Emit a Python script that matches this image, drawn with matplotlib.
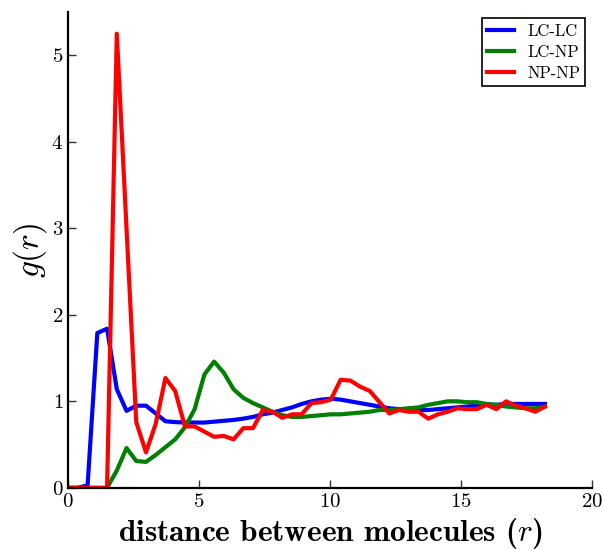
import os
import numpy as np
import matplotlib
matplotlib.use("Agg")
import matplotlib.pyplot as plt
from matplotlib.font_manager import FontProperties

# radial distance bins
r = np.linspace(0.0, 18.2, 50)

lc_lc = [0.00, 0.00, 0.03, 1.79, 1.84, 1.14, 0.89, 0.95, 0.95, 0.86,
         0.77, 0.76, 0.755, 0.755, 0.755, 0.765, 0.775, 0.785, 0.80, 0.82,
         0.85, 0.87, 0.90, 0.93, 0.97, 1.00, 1.02, 1.03, 1.02, 1.00,
         0.98, 0.96, 0.94, 0.92, 0.91, 0.90, 0.90, 0.90, 0.91, 0.92,
         0.93, 0.94, 0.95, 0.96, 0.96, 0.97, 0.97, 0.97, 0.97, 0.97]

lc_np = [0.00, 0.00, 0.00, 0.00, 0.00, 0.20, 0.46, 0.31, 0.30, 0.38,
         0.47, 0.56, 0.70, 0.91, 1.31, 1.46, 1.33, 1.14, 1.04, 0.98,
         0.93, 0.88, 0.84, 0.82, 0.82, 0.83, 0.84, 0.85, 0.85, 0.86,
         0.87, 0.88, 0.90, 0.90, 0.91, 0.92, 0.93, 0.96, 0.98, 1.00,
         1.00, 0.99, 0.99, 0.97, 0.96, 0.94, 0.93, 0.92, 0.92, 0.94]

np_np = [0.00, 0.00, 0.00, 0.00, 0.00, 5.25, 3.00, 0.76, 0.41, 0.74,
         1.27, 1.12, 0.71, 0.71, 0.65, 0.59, 0.60, 0.56, 0.69, 0.69,
         0.90, 0.88, 0.81, 0.85, 0.85, 0.98, 0.99, 1.02, 1.25, 1.24,
         1.17, 1.12, 0.99, 0.86, 0.90, 0.88, 0.88, 0.80, 0.85, 0.88,
         0.92, 0.91, 0.91, 0.96, 0.91, 1.00, 0.95, 0.92, 0.88, 0.94]

series_labels = ["LC-LC", "LC-NP", "NP-NP"]
series_colors = ["#0000ff", "#008000", "#ff0000"]

plt.rcParams["font.family"] = "serif"
plt.rcParams["font.serif"] = ["cmr10", "DejaVu Serif"]
plt.rcParams["mathtext.fontset"] = "cm"
plt.rcParams["axes.formatter.use_mathtext"] = True

label_cm = FontProperties(
    fname=os.path.join(matplotlib.get_data_path(), "fonts", "ttf", "cmb10.ttf"),
    size=22.5)

fig = plt.figure(figsize=(6.03, 5.50), dpi=100)
ax = fig.add_axes([0.113, 0.113, 0.869, 0.865])

for ys, lab, col in zip([lc_lc, lc_np, np_np], series_labels, series_colors):
    ax.plot(r, ys, color=col, lw=3.0, label=lab)

ax.set_xlim(0, 20)
ax.set_ylim(0, 5.5)
ax.set_xticks([0, 5, 10, 15, 20])
ax.set_yticks([0, 1, 2, 3, 4, 5])

for side in ("top", "right"):
    ax.spines[side].set_visible(False)
for side in ("left", "bottom"):
    ax.spines[side].set_linewidth(1.6)
ax.tick_params(direction="in", length=6, width=1.0, labelsize=15,
               top=False, right=False, color="#333333")

ax.set_xlabel("distance between molecules ($r$)", fontproperties=label_cm,
              labelpad=4)
ax.set_ylabel("$g(r)$", fontsize=24, labelpad=2)

leg = ax.legend(loc="upper right", fontsize=12, fancybox=False,
                framealpha=1.0, edgecolor="black", handlelength=1.6,
                handletextpad=0.8, labelspacing=0.35, borderpad=0.3,
                borderaxespad=0.0, bbox_to_anchor=(0.987, 0.987))
leg.get_frame().set_linewidth(1.2)

fig.savefig("out.png", dpi=100)
